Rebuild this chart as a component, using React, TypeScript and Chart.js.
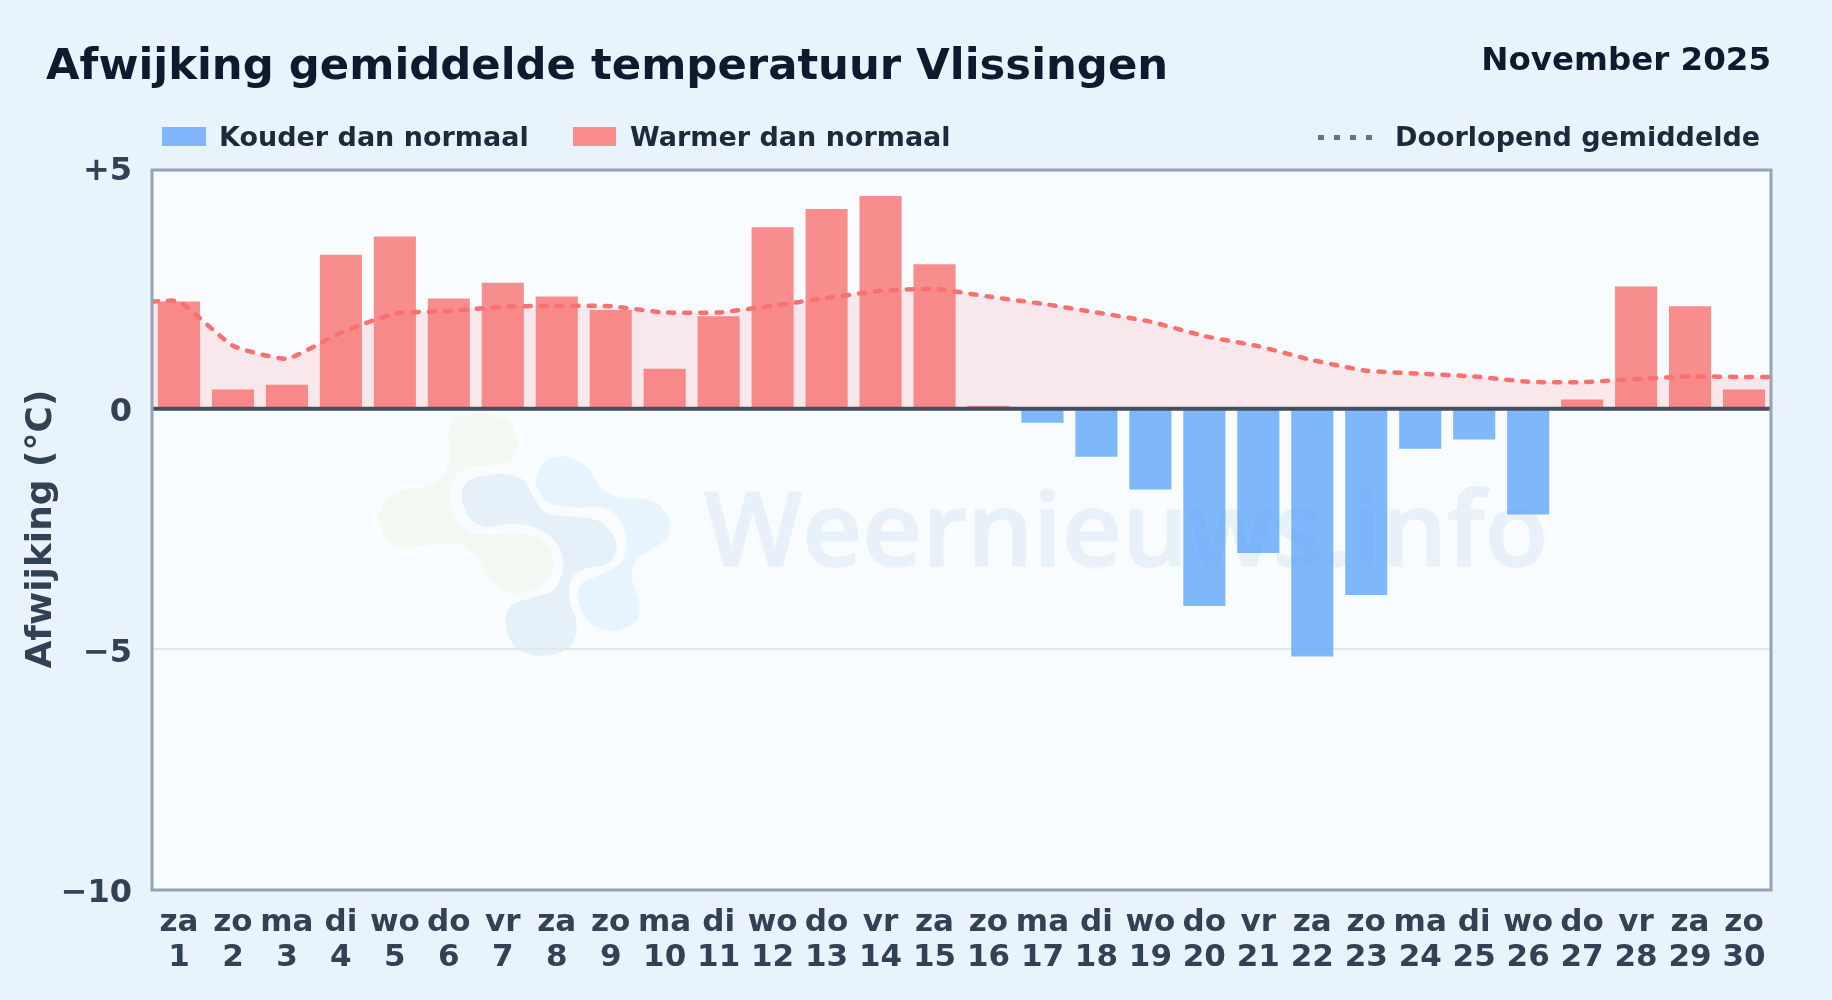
import React, { useEffect, useRef } from "react";
import { Chart, registerables } from "chart.js";

Chart.register(...registerables);

const FONT = "'DejaVu Sans', sans-serif";

const weekdays = ["za","zo","ma","di","wo","do","vr","za","zo","ma","di","wo","do","vr","za","zo","ma","di","wo","do","vr","za","zo","ma","di","wo","do","vr","za","zo"];
const days = [1,2,3,4,5,6,7,8,9,10,11,12,13,14,15,16,17,18,19,20,21,22,23,24,25,26,27,28,29,30];
const deviation = [2.23,0.4,0.5,3.2,3.58,2.29,2.62,2.33,2.05,0.83,1.92,3.77,4.15,4.42,3.0,0.06,-0.29,-1.0,-1.68,-4.1,-3.0,-5.15,-3.87,-0.83,-0.64,-2.2,0.19,2.54,2.13,0.4];
const runningMean = [2.23,1.31,1.04,1.58,1.98,2.03,2.12,2.14,2.13,2.0,2.0,2.14,2.3,2.45,2.49,2.33,2.18,2.0,1.81,1.51,1.3,1.01,0.79,0.73,0.67,0.56,0.55,0.62,0.67,0.66];
const yTicks = [5,0,-5,-10];
const yTickLabels = ["+5","0","\u22125","\u221210"];

const COLD = "rgba(96,165,250,0.8)";
const WARM = "rgba(248,113,113,0.8)";

const logoGreen = [[265,100],[300,50],[380,40],[450,70],[472,130],[455,180],[400,195],[320,205],[280,240],[270,300],[295,365],[350,402],[480,400],[550,425],[580,485],[560,545],[470,580],[400,550],[350,470],[280,430],[130,442],[70,400],[60,335],[100,280],[220,250],[270,180]];
const logoSlate = [[305,290],[330,240],[420,222],[490,240],[520,290],[560,340],[640,350],[720,365],[770,430],[745,490],[680,505],[635,535],[628,600],[650,670],[630,740],[545,768],[470,745],[438,680],[450,620],[510,595],[580,570],[610,500],[590,430],[530,385],[460,372],[380,380],[330,355]];
const logoBlue = [[530,230],[560,180],[620,170],[680,200],[720,260],[780,295],[870,300],[925,350],[925,410],[880,445],[830,480],[815,530],[840,620],[820,670],[760,693],[690,670],[655,600],[665,550],[720,525],[780,490],[800,430],[780,360],[730,325],[640,322],[570,310],[535,270]];

const FRAME_INSET_TOP = 1.9;

function blob(ctx: CanvasRenderingContext2D, pts: number[][], color: string) {
  const P = pts.map(([x, y]) => [360 + x / 3, 400 + y / 3]);
  const n = P.length;
  ctx.beginPath();
  ctx.moveTo(P[0][0], P[0][1]);
  for (let i = 0; i < n; i++) {
    const p0 = P[(i - 1 + n) % n], p1 = P[i], p2 = P[(i + 1) % n], p3 = P[(i + 2) % n];
    ctx.bezierCurveTo(
      p1[0] + (p2[0] - p0[0]) / 6, p1[1] + (p2[1] - p0[1]) / 6,
      p2[0] - (p3[0] - p1[0]) / 6, p2[1] - (p3[1] - p1[1]) / 6,
      p2[0], p2[1]
    );
  }
  ctx.closePath();
  ctx.fillStyle = color;
  ctx.fill();
}

const framePlugin = {
  id: "frame",
  beforeDraw(chart: any) {
    const { ctx, chartArea: a } = chart;
    ctx.save();
    ctx.fillStyle = "#f8fcff";
    ctx.fillRect(a.left, a.top + FRAME_INSET_TOP, a.right - a.left, a.bottom - a.top - FRAME_INSET_TOP);
    blob(ctx, logoGreen, "#f3f9f2");
    blob(ctx, logoSlate, "#e5f0f8");
    blob(ctx, logoBlue, "#e7f4fe");
    ctx.font = "600 104px 'Open Sans', sans-serif";
    ctx.fillStyle = "#e8f1f9";
    ctx.strokeStyle = "#e8f1f9";
    ctx.lineWidth = 1.5;
    ctx.lineJoin = "round";
    ctx.textBaseline = "alphabetic";
    ctx.textAlign = "left";
    ctx.fillText("Weernieuws.info", 704, 566);
    ctx.strokeText("Weernieuws.info", 704, 566);
    ctx.restore();
  },
  afterDatasetsDraw(chart: any) {
    const { ctx, chartArea: a, scales } = chart;
    ctx.save();
    const y0 = scales.y.getPixelForValue(0);
    ctx.strokeStyle = "#434e62";
    ctx.lineWidth = 4;
    ctx.beginPath();
    ctx.moveTo(a.left, y0);
    ctx.lineTo(a.right, y0);
    ctx.stroke();
    ctx.strokeStyle = "#94a3b8";
    ctx.lineWidth = 3;
    ctx.strokeRect(a.left, a.top + FRAME_INSET_TOP, a.right - a.left, a.bottom - a.top - FRAME_INSET_TOP);
    ctx.restore();
  },
};

const abs = (o: React.CSSProperties): React.CSSProperties => ({
  position: "absolute",
  fontFamily: FONT,
  fontWeight: 700,
  lineHeight: 1,
  whiteSpace: "nowrap",
  ...o,
});

export default function App() {
  const ref = useRef<HTMLCanvasElement | null>(null);
  useEffect(() => {
    document.body.style.margin = "0";
    const chart = new Chart(ref.current as HTMLCanvasElement, {
      type: "bar",
      data: {
        datasets: [
          {
            type: "line",
            label: "Doorlopend gemiddelde",
            data: [
              { x: 0.5, y: runningMean[0] },
              ...days.map((d, i) => ({ x: d, y: runningMean[i] })),
              { x: 30.5, y: runningMean[29] },
            ],
            borderColor: "#f87171",
            borderWidth: 4.5,
            borderDash: [6, 10],
            borderCapStyle: "round",
            pointRadius: 0,
            tension: 0.15,
            fill: "origin",
            backgroundColor: "rgba(248,113,113,0.14)",
            order: 0,
          },
          {
            type: "bar",
            label: "Afwijking",
            data: days.map((d, i) => ({ x: d, y: deviation[i] })),
            backgroundColor: deviation.map((v) => (v < 0 ? COLD : WARM)),
            borderWidth: 0,
            barPercentage: 0.78,
            categoryPercentage: 1,
            order: 1,
          },
        ],
      } as any,
      options: {
        responsive: false,
        animation: false,
        devicePixelRatio: 1,
        layout: { padding: { left: 0, right: 61, top: 168.1, bottom: 0 } },
        plugins: {
          legend: { display: false },
          title: { display: false },
          tooltip: { enabled: false },
          filler: { drawTime: "beforeDatasetsDraw" },
        },
        scales: {
          x: {
            type: "linear",
            offset: false,
            min: 0.5,
            max: 30.5,
            afterBuildTicks: (s: any) => {
              s.ticks = days.map((d) => ({ value: d }));
            },
            afterFit: (s: any) => {
              s.height = 110;
            },
            grid: { display: false },
            border: { display: false },
            ticks: {
              autoSkip: false,
              maxRotation: 0,
              minRotation: 0,
              padding: 8,
              color: "#334155",
              font: { family: FONT, size: 31, weight: "bold", lineHeight: 1.12 },
              callback: (v: any) => [weekdays[Number(v) - 1], String(v)],
            },
          },
          y: {
            type: "linear",
            min: -10,
            max: 5,
            afterBuildTicks: (s: any) => {
              s.ticks = yTicks.map((v) => ({ value: v }));
            },
            afterFit: (s: any) => {
              s.width = 152;
            },
            grid: {
              color: (c: any) => (c.tick && c.tick.value === 5 ? "rgba(0,0,0,0)" : "#dfe9ee"),
              lineWidth: 2,
              drawTicks: false,
            },
            border: { display: false },
            title: {
              display: true,
              text: "Afwijking (\u00b0C)",
              color: "#334155",
              font: { family: FONT, size: 36, weight: "bold" },
              padding: { top: 20, bottom: 0 },
            },
            ticks: {
              padding: 20,
              labelOffset: 4,
              color: "#334155",
              font: { family: FONT, size: 32, weight: "bold" },
              callback: (v: any) => yTickLabels[yTicks.indexOf(Number(v))],
            },
          },
        },
      } as any,
      plugins: [framePlugin as any],
    });
    return () => chart.destroy();
  }, []);

  const dot: React.CSSProperties = { position: "absolute", top: 134.5, width: 6, height: 5, background: "#64748b" };
  return (
    <div style={{ position: "relative", width: 1832, height: 1000, overflow: "hidden", background: "linear-gradient(135deg,#e9f3fc,#e8f3fc)" }}>
      <canvas ref={ref} width={1832} height={1000} style={{ position: "absolute", left: 0, top: 0, display: "block" }} />
      <div style={abs({ left: 46, top: 43.3, fontSize: 43.35, color: "#0f1a2e" })}>Afwijking gemiddelde temperatuur Vlissingen</div>
      <div style={abs({ right: 61, top: 42.8, fontSize: 32.5, color: "#0f1a2e" })}>November 2025</div>
      <div style={{ position: "absolute", left: 162, top: 127, width: 44, height: 19, background: "#81b6fc" }} />
      <div style={abs({ left: 219, top: 123.2, fontSize: 27, color: "#1e293b" })}>Kouder dan normaal</div>
      <div style={{ position: "absolute", left: 573, top: 127, width: 43, height: 19, background: "#fa8e8e" }} />
      <div style={abs({ left: 630, top: 123.2, fontSize: 27, color: "#1e293b" })}>Warmer dan normaal</div>
      <div style={{ ...dot, left: 1318 }} />
      <div style={{ ...dot, left: 1334 }} />
      <div style={{ ...dot, left: 1350 }} />
      <div style={{ ...dot, left: 1366 }} />
      <div style={abs({ left: 1395, top: 123.2, fontSize: 27, color: "#1e293b" })}>Doorlopend gemiddelde</div>
    </div>
  );
}
